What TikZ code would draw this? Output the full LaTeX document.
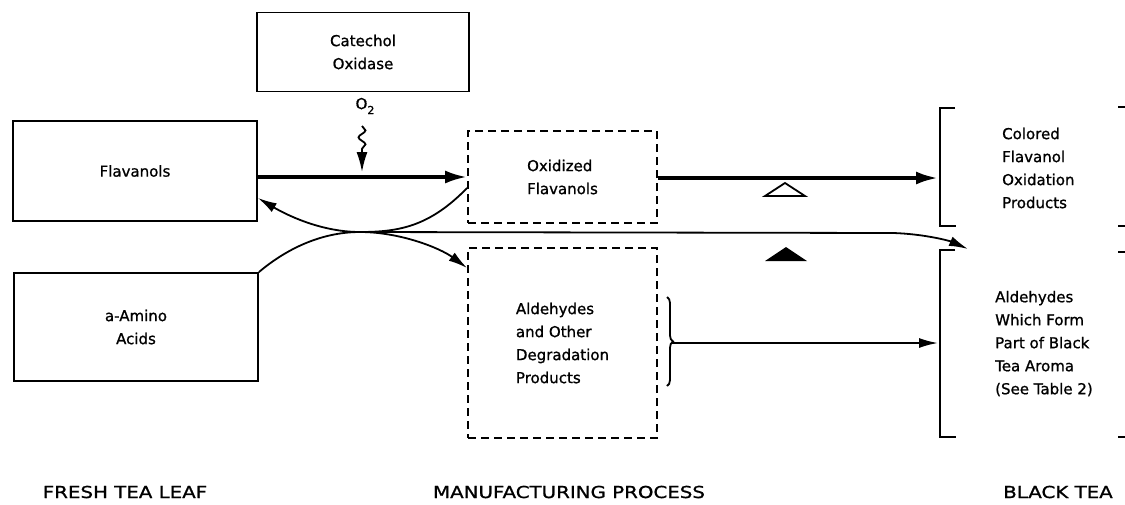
\documentclass[tikz,border=0pt]{standalone}
\usepackage{fontspec}
\setmainfont{DejaVu Sans}[FakeBold=1]
\newfontfamily\lblfont{DejaVu Sans}[FakeStretch=1.2,FakeBold=1]
\usetikzlibrary{arrows.meta,decorations.pathmorphing,decorations.pathreplacing}
\begin{document}
\begin{tikzpicture}[x=1pt,y=-1pt,
  boxtxt/.style={font=\fontsize{15}{23}\selectfont, align=left},
  solidbox/.style={boxtxt, draw, line width=1.8pt, inner sep=0pt},
  dashbox/.style={boxtxt, draw, line width=1.8pt, dash pattern=on 8pt off 5pt, inner sep=0pt},
  fatarrow/.style={line width=3.6pt, -{Latex[length=22pt,width=13pt]}},
  thinarrow/.style={line width=1.8pt, -{Latex[length=19pt,width=10pt]}},
  plainline/.style={line width=1.8pt},
  lbl/.style={font=\lblfont\fontsize{16.5}{20}\selectfont}]
\useasboundingbox (0,0) rectangle (1125,504);

% boxes
\node[solidbox, minimum width=212pt, minimum height=79pt, align=center] (cat) at (363,52) {Catechol\\Oxidase};
\node[solidbox, minimum width=244pt, minimum height=100pt] (flav) at (135,171) {Flavanols};
\node[solidbox, minimum width=244pt, minimum height=108pt, align=center] (amino) at (136,327) {a-Amino\\Acids};
\node[dashbox, minimum width=189pt, minimum height=92pt] (oxf) at (562.5,177) {Oxidized\\Flavanols};
\node[dashbox, minimum width=189pt, minimum height=190pt] (ald) at (562.5,343) {Aldehydes\\and Other\\Degradation\\Products};

% right-hand texts
\node[boxtxt, anchor=west, inner sep=0pt] (colored) at (1002,168) {Colored\\Flavanol\\Oxidation\\Products};
\node[boxtxt, anchor=west, inner sep=0pt] (aroma) at (995,343.5) {Aldehydes\\Which Form\\Part of Black\\Tea Aroma\\(See Table 2)};

% brackets
\draw[plainline] (955,108) -- (940,108) -- (940,226) -- (956,226);
\draw[plainline] (955,250) -- (940,250) -- (940,437) -- (956,437);
\foreach \yy in {107,226,252,437} \draw[plainline] (1118,\yy) -- (1125,\yy);

% coordinates
\coordinate (x) at (360,232);
\coordinate (w0) at (362,126);
\coordinate (w1) at (362,149);
\coordinate (w2) at (362,172);
\coordinate (b1) at (938,178);
\coordinate (b2) at (938,343);
\coordinate (tip) at (968,249);
\coordinate (bt) at (667,297);
\coordinate (bb) at (667,386);
\coordinate (bm) at (672,343);

% O2 and wavy arrow
\node[boxtxt, inner sep=0pt] (o2) at (365,106) {O\raisebox{-5pt}{\fontsize{11}{11}\selectfont 2}};
\draw[plainline, decorate, decoration={snake, amplitude=3.5pt, segment length=14pt}] (w0) -- (w1);
\draw[line width=1.8pt, -{Latex[length=20pt,width=11pt]}] (w1) -- (w2);

% main arrows
\draw[fatarrow] (flav.east |- oxf.west) -- (oxf.west);
\draw[fatarrow] (oxf.east |- b1) -- (b1);

% crossing curves
\draw[thinarrow] (oxf.west |- 0,188) .. controls (430,226) and (400,232) .. (x) .. controls (320,232) and (285,214) .. (flav.east |- 0,198);
\draw[thinarrow] (amino.north east) .. controls (285,250) and (320,232) .. (x) .. controls (400,232) and (440,248) .. (ald.west |- 0,268);
\draw[thinarrow] (x) -- (893,233) .. controls (925,234) and (950,241) .. (tip);

% brace and arrow
\draw[plainline, decorate, decoration={brace, amplitude=6pt}] (bt) -- (bb);
\draw[thinarrow] (bm) -- (b2);

% triangles
\draw[line width=1.8pt] (765,196) -- (805,196) -- (785,183) -- cycle;
\fill (765,261) -- (807,261) -- (786,247) -- cycle;

% bottom labels
\node[lbl] (fresh) at (125,492) {FRESH TEA LEAF};
\node[lbl] (manu) at (569,492) {MANUFACTURING PROCESS};
\node[lbl] (black) at (1058,492) {BLACK TEA};
\end{tikzpicture}
\end{document}
